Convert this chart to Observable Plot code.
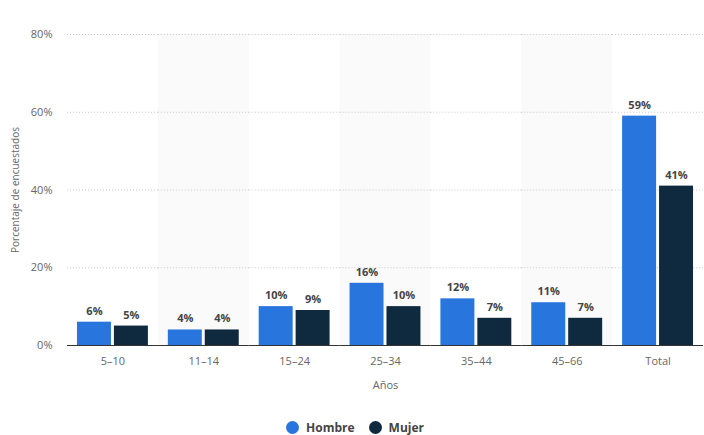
<!DOCTYPE html>
<html>
<head>
<meta charset="utf-8">
<script src="https://cdn.jsdelivr.net/npm/d3@7"></script>
<script src="https://cdn.jsdelivr.net/npm/@observablehq/plot@0.6"></script>
<style>
  body { margin: 0; background: #fff; font-family: "Open Sans", sans-serif; }
  #chart { width: 704px; position: relative; }
  .ylabel { position: absolute; left: 15px; top: 190px; transform: translate(-50%, -50%) rotate(-90deg); white-space: nowrap; font-size: 10px; color: #666; }
  .legend { display: flex; justify-content: center; align-items: center; gap: 14px; height: 18px; margin-top: 18px; font-size: 12px; font-weight: bold; color: #444; padding-left: 6px; }
  .legend span.sw { display: inline-block; width: 13px; height: 13px; border-radius: 50%; margin-right: 7px; vertical-align: -2px; }
</style>
</head>
<body>
<div id="chart"><div class="ylabel">Porcentaje de encuestados</div></div>
<script>
const categories = ["5–10", "11–14", "15–24", "25–34", "35–44", "45–66", "Total"];
const series = ["Hombre", "Mujer"];
const hombre = [6, 4, 10, 16, 12, 11, 59];
const mujer = [5, 4, 9, 10, 7, 7, 41];
const yTicks = [0, 20, 40, 60, 80];
const colors = ["#2876dd", "#0f2a3f"];

const rows = categories.flatMap((c, i) => [
  {cat: c, serie: "Hombre", value: hombre[i]},
  {cat: c, serie: "Mujer", value: mujer[i]}
]);
const shaded = categories.filter((c, i) => i % 2 === 1 && i < 6);

const plot = Plot.plot({
  width: 704,
  height: 400,
  marginLeft: 67,
  marginRight: 1,
  marginTop: 34,
  marginBottom: 55,
  style: {fontFamily: "Open Sans, sans-serif", fontSize: "11px", color: "#666"},
  fx: {domain: categories, padding: 0, round: false, label: "Años", labelAnchor: "center", labelOffset: 43, tickSize: 0, tickPadding: 12},
  x: {domain: series, paddingInner: 0.08, paddingOuter: 0.27, round: false, axis: null},
  y: {domain: [0, 80], ticks: yTicks, tickFormat: d => d + "%", tickSize: 0, tickPadding: 15, label: null},
  color: {domain: series, range: colors},
  marks: [
    Plot.barY(shaded, {fx: d => d, y1: 0, y2: 80, fill: "#fafafa"}),
    Plot.ruleY(yTicks.filter(d => d > 0), {stroke: "#c8c8c8", strokeDasharray: "1,2"}),
    Plot.barY(rows, {fx: "cat", x: "serie", y: "value", fill: "serie"}),
    Plot.ruleY([0], {stroke: "#333", strokeWidth: 1.2}),
    Plot.text(rows, {fx: "cat", x: "serie", y: "value", text: d => d.value + "%", dy: -11, fontWeight: "bold", fill: "#444", fontSize: 11})
  ]
});
document.getElementById("chart").appendChild(plot);

const legend = document.createElement("div");
legend.className = "legend";
series.forEach((s, i) => {
  const item = document.createElement("div");
  item.innerHTML = `<span class="sw" style="background:${colors[i]}"></span>${s}`;
  legend.appendChild(item);
});
document.getElementById("chart").appendChild(legend);
</script>
</body>
</html>
